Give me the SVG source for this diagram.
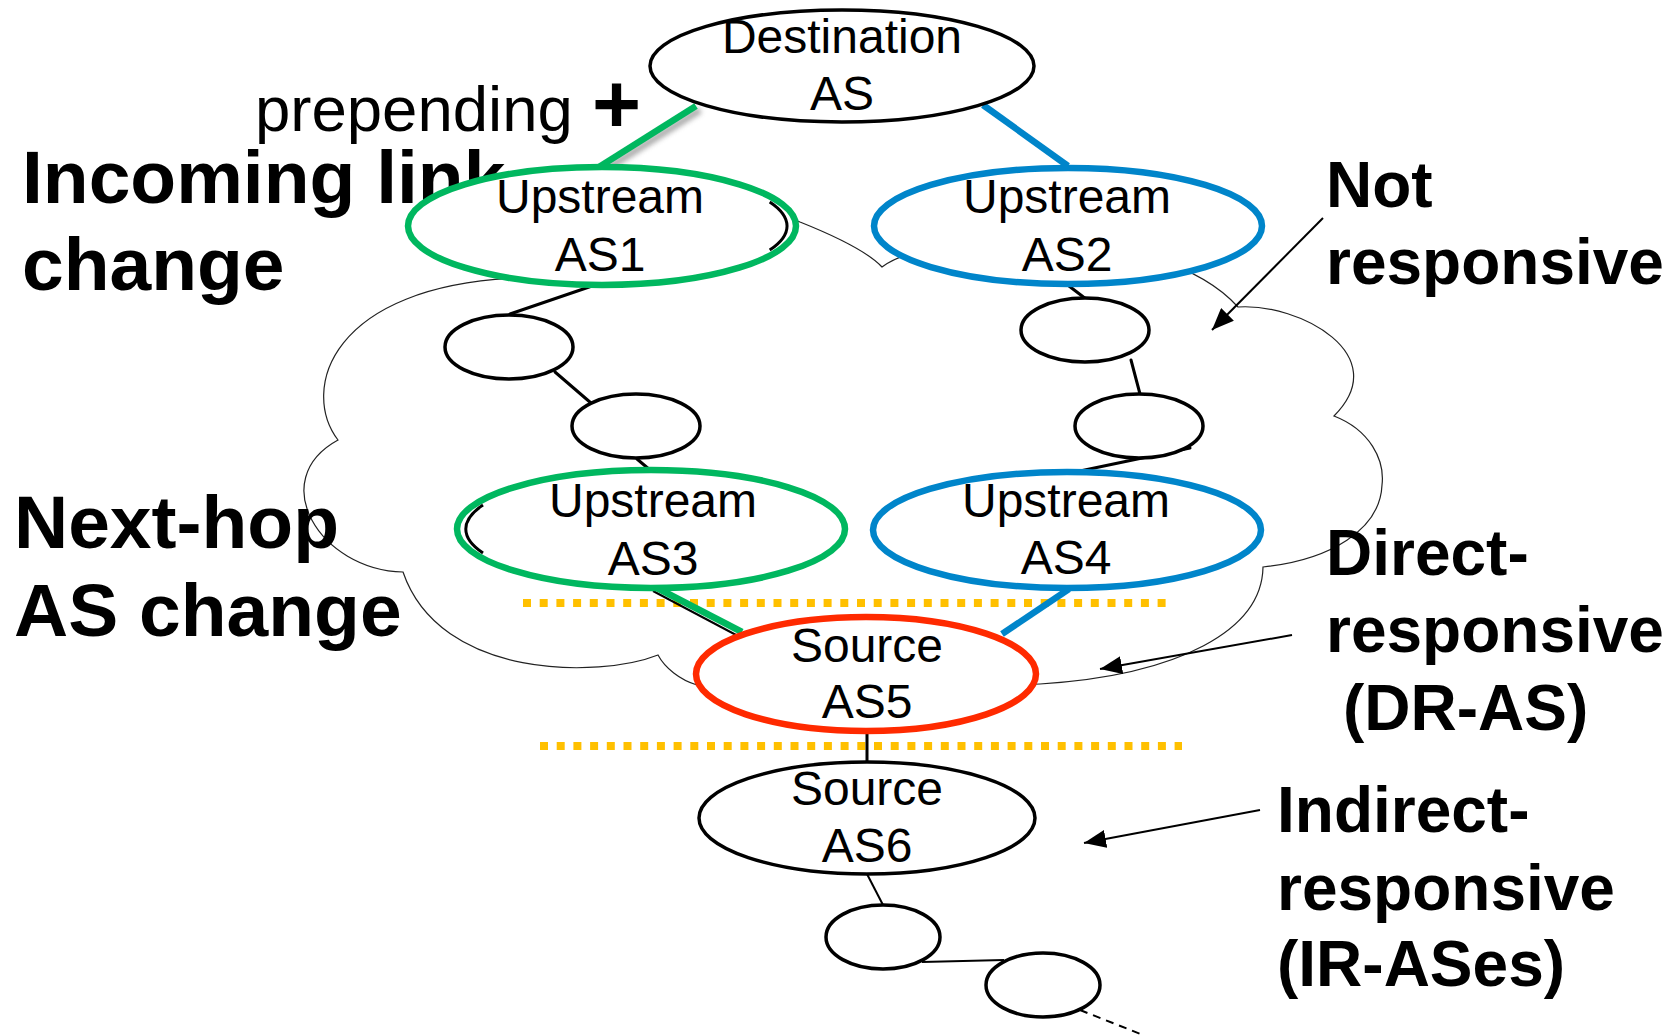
<svg xmlns="http://www.w3.org/2000/svg" width="1670" height="1035" viewBox="0 0 1670 1035">
  <defs>
    <style>
      .cloud { fill: none; stroke: #222; stroke-width: 1.2; }
      .dots { fill: none; stroke: #FFC000; stroke-width: 8; stroke-dasharray: 8 8.7; }
      .link { fill: none; stroke: #000; stroke-width: 3; stroke-linecap: round; }
      .thin { fill: none; stroke: #000; stroke-width: 2; }
      .g { fill: none; stroke: #00B75F; stroke-width: 6.5; }
      .b { fill: none; stroke: #0085CA; stroke-width: 6.5; }
      .arrow { fill: none; stroke: #000; stroke-width: 2; }
      .plain { fill: #fff; stroke: #000; stroke-width: 3.5; }
      .green { fill: #fff; stroke: #00B75F; stroke-width: 6.5; }
      .blue { fill: #fff; stroke: #0085CA; stroke-width: 6.5; }
      .red { fill: #fff; stroke: #FF2A00; stroke-width: 6.5; }
      .t { font-family: "Liberation Sans", Arial, sans-serif; font-size: 48px; text-anchor: middle; fill: #000; }
      .lbl { font-family: "Liberation Sans", Arial, sans-serif; font-weight: bold; fill: #000; }
      .big { font-size: 75px; }
      .mid { font-size: 64px; }
    </style>
    <marker id="head" viewBox="0 0 22 18" refX="22" refY="9" markerWidth="22" markerHeight="18" markerUnits="userSpaceOnUse" orient="auto">
      <path d="M0 0 L22 9 L0 18 Z" fill="#000"/>
    </marker>
    <filter id="soft" x="-50%" y="-50%" width="200%" height="200%">
      <feGaussianBlur stdDeviation="2.5"/>
    </filter>
  </defs>

  <rect width="1670" height="1035" fill="#fff"/>

  <!-- AS cloud -->
  <path id="cloud" class="cloud" d="M 338 440 C 300 390 330 285 520 278 C 640 274 730 190 800 222 C 840 238 868 252 882 267 C 930 230 1160 220 1238 307 C 1300 303 1395 355 1334 416 C 1370 430 1385 460 1382 485 C 1380 530 1330 560 1263 567 C 1262 630 1180 675 1040 684 C 900 690 780 690 697 685 C 680 680 665 668 658 655 C 600 678 440 680 403 572 C 320 570 265 480 338 440 Z"/>

  <!-- dotted boundaries -->
  <g id="boundaries">
    <line class="dots" x1="523" y1="603" x2="1166" y2="603"/>
    <line class="dots" x1="540" y1="746" x2="1182" y2="746"/>
  </g>

  <!-- left labels -->
  <g id="label-incoming">
    <text class="lbl big" x="22" y="203">Incoming link</text>
    <text class="lbl big" x="22" y="290">change</text>
  </g>
  <g id="label-nexthop">
    <text class="lbl big" x="14" y="548">Next-hop</text>
    <text class="lbl big" x="14" y="636">AS change</text>
  </g>
  <g id="label-prepending">
    <text x="255" y="131" font-family="Liberation Sans, Arial, sans-serif" font-size="63.5">prepending</text>
    <text class="lbl" x="592" y="133" font-size="84">+</text>
  </g>

  <!-- connectors -->
  <g id="connectors">
    <line x1="700" y1="110" x2="603" y2="171" stroke="#777" stroke-width="7" opacity="0.6" filter="url(#soft)"/>
    <line class="g" x1="696" y1="106" x2="599" y2="167"/>
    <line class="b" x1="983" y1="105" x2="1068" y2="166"/>
    <line class="link" x1="592" y1="286" x2="510" y2="314"/>
    <line class="link" x1="555" y1="372" x2="591" y2="403"/>
    <line class="link" x1="637" y1="459" x2="650" y2="470"/>
    <line class="link" x1="1069" y1="286" x2="1086" y2="299"/>
    <line class="link" x1="1131" y1="360" x2="1140" y2="394"/>
    <line class="link" x1="1190" y1="448" x2="1080" y2="471"/>
    <line class="thin" x1="653" y1="591" x2="738" y2="636"/>
    <line class="g" x1="657" y1="588" x2="742" y2="632"/>
    <line class="b" x1="1069" y1="589" x2="1002" y2="634"/>
    <line class="link" x1="867" y1="732" x2="867" y2="762" stroke-width="2.5"/>
    <line class="thin" x1="867" y1="874" x2="883" y2="905"/>
    <line class="thin" x1="922" y1="962" x2="1004" y2="960"/>
    <line class="thin" x1="1080" y1="1010" x2="1143" y2="1035" stroke-dasharray="8 6" stroke-width="1.6"/>
  </g>

  <!-- nodes -->
  <g id="dest">
    <ellipse class="plain" cx="842" cy="66" rx="192" ry="56"/>
    <text class="t" x="842" y="53">Destination</text>
    <text class="t" x="842" y="110">AS</text>
  </g>
  <g id="as1">
    <ellipse class="green" cx="602" cy="226" rx="194" ry="59"/>
    <path d="M 769.7 201.9 A 185 57 0 0 1 769.7 250.1" fill="none" stroke="#000" stroke-width="3"/>
    <text class="t" x="600" y="213">Upstream</text>
    <text class="t" x="600" y="271">AS1</text>
  </g>
  <g id="as2">
    <ellipse class="blue" cx="1068" cy="226" rx="194" ry="58"/>
    <text class="t" x="1067" y="213">Upstream</text>
    <text class="t" x="1067" y="271">AS2</text>
  </g>
  <g id="hop1">
    <ellipse class="plain" cx="509" cy="347" rx="64" ry="32"/>
  </g>
  <g id="hop2">
    <ellipse class="plain" cx="636" cy="426" rx="64" ry="32"/>
  </g>
  <g id="hop3">
    <ellipse class="plain" cx="1085" cy="330" rx="64" ry="32"/>
  </g>
  <g id="hop4">
    <ellipse class="plain" cx="1139" cy="426" rx="64" ry="32"/>
  </g>
  <g id="as3">
    <ellipse class="green" cx="651" cy="529" rx="194" ry="59"/>
    <path d="M 483 553 A 185 57 0 0 1 483 505" fill="none" stroke="#000" stroke-width="3"/>
    <text class="t" x="653" y="517">Upstream</text>
    <text class="t" x="653" y="575">AS3</text>
  </g>
  <g id="as4">
    <ellipse class="blue" cx="1067" cy="530" rx="194" ry="58"/>
    <text class="t" x="1066" y="517">Upstream</text>
    <text class="t" x="1066" y="574">AS4</text>
  </g>
  <g id="as5">
    <ellipse class="red" cx="866" cy="674" rx="170" ry="57"/>
    <text class="t" x="867" y="662">Source</text>
    <text class="t" x="867" y="718">AS5</text>
  </g>
  <g id="as6">
    <ellipse class="plain" cx="867" cy="818" rx="168" ry="56"/>
    <text class="t" x="867" y="805">Source</text>
    <text class="t" x="867" y="862">AS6</text>
  </g>
  <g id="hop5">
    <ellipse class="plain" cx="883" cy="937" rx="57" ry="32"/>
  </g>
  <g id="hop6">
    <ellipse class="plain" cx="1043" cy="985" rx="57" ry="32"/>
  </g>

  <!-- category labels and pointers -->
  <g id="arrows">
    <line class="arrow" x1="1323" y1="218" x2="1212" y2="330" marker-end="url(#head)"/>
    <line class="arrow" x1="1292" y1="635" x2="1100" y2="669" marker-end="url(#head)"/>
    <line class="arrow" x1="1260" y1="810" x2="1084" y2="843" marker-end="url(#head)"/>
  </g>
  <g id="label-not">
    <text class="lbl mid" x="1326" y="207">Not</text>
    <text class="lbl mid" x="1326" y="284">responsive</text>
  </g>
  <g id="label-direct">
    <text class="lbl mid" x="1326" y="575">Direct-</text>
    <text class="lbl mid" x="1326" y="652">responsive</text>
    <text class="lbl mid" x="1343" y="730">(DR-AS)</text>
  </g>
  <g id="label-indirect">
    <text class="lbl mid" x="1277" y="832">Indirect-</text>
    <text class="lbl mid" x="1277" y="910">responsive</text>
    <text class="lbl mid" x="1277" y="986">(IR-ASes)</text>
  </g>
</svg>
